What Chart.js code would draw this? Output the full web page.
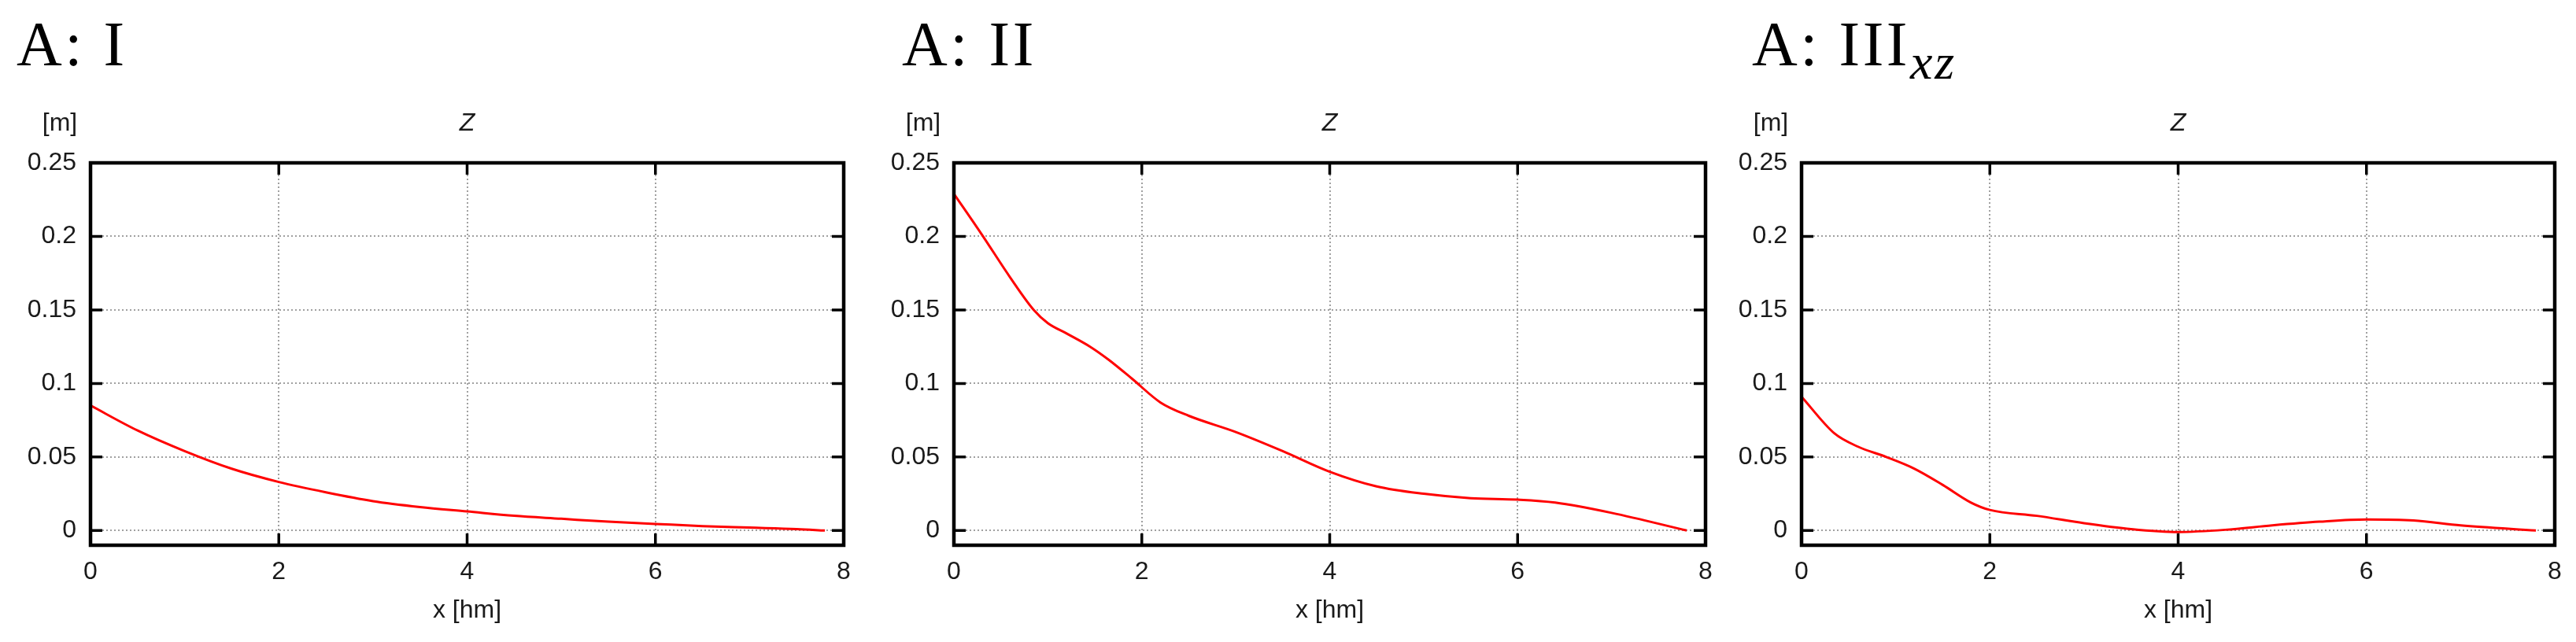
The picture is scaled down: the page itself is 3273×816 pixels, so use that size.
<!DOCTYPE html>
<html>
<head>
<meta charset="utf-8">
<script src="https://cdn.jsdelivr.net/npm/chart.js@4.4.0/dist/chart.umd.min.js"></script>
<style>
  body { margin: 0; width: 3273px; height: 816px; background: #fff; position: relative; overflow: hidden; }
  canvas { position: absolute; top: 0; }
  .ttl { position: absolute; top: 16px; font-family: "Liberation Serif", serif; font-size: 80px; line-height: 80px; letter-spacing: 3.5px; white-space: nowrap; color: #000; }
  .ttl .sub { font-style: italic; font-size: 64px; letter-spacing: 3px; line-height: 0; vertical-align: -17px; }
</style>
</head>
<body>
<div class="ttl" style="left:21px">A: I</div>
<div class="ttl" style="left:1146px">A: II</div>
<div class="ttl" style="left:2226px">A: III<span class="sub">xz</span></div>
<canvas id="c1" width="1099" height="816" style="left:0px"></canvas>
<canvas id="c2" width="1097" height="816" style="left:1097px"></canvas>
<canvas id="c3" width="1099" height="816" style="left:2174px"></canvas>
<script>
// ticks
const xTicks = [0, 2, 4, 6, 8];
const yTicks = [0, 0.05, 0.1, 0.15, 0.2, 0.25];
const yTickLabels = ['0', '0.05', '0.1', '0.15', '0.2', '0.25'];

// A: I
const xI = [0, 0.5, 1, 1.5, 2, 2.5, 3, 3.5, 4, 4.5, 5, 5.5, 6, 6.5, 7, 7.5, 7.8];
const zI = [0.085, 0.068, 0.054, 0.042, 0.033, 0.026, 0.020, 0.016, 0.013, 0.010, 0.008, 0.006, 0.0045, 0.003, 0.002, 0.001, 0];

// A: II
const xII = [0, 0.3, 0.6, 0.85, 1.0, 1.2, 1.45, 1.65, 1.9, 2.2, 2.5, 3.0, 3.5, 4.0, 4.5, 5.0, 5.5, 6.0, 6.4, 7.0, 7.8];
const zII = [0.229, 0.201, 0.172, 0.150, 0.141, 0.134, 0.125, 0.116, 0.103, 0.087, 0.078, 0.067, 0.054, 0.040, 0.030, 0.025, 0.022, 0.021, 0.019, 0.012, 0];

// A: III_xz
const xIII = [0, 0.35, 0.6, 0.9, 1.2, 1.5, 1.8, 2.0, 2.5, 3.0, 3.5, 4.0, 4.5, 5.0, 5.5, 6.0, 6.5, 7.0, 7.8];
const zIII = [0.091, 0.066, 0.057, 0.050, 0.042, 0.031, 0.019, 0.014, 0.010, 0.005, 0.001, -0.001, 0.0005, 0.0035, 0.006, 0.0075, 0.0068, 0.0035, 0];

const textFont = { family: 'Liberation Sans', size: 32 };
const textColor = '#1a1a1a';

// 框、内侧刻度和上方的文字
const framePlugin = {
  id: 'frame',
  afterDatasetsDraw(chart) {
    const { ctx, chartArea: a, scales } = chart;
    ctx.save();
    ctx.strokeStyle = '#000';
    ctx.lineWidth = 3.5;
    ctx.beginPath();
    yTicks.forEach(v => {
      const py = scales.y.getPixelForValue(v);
      ctx.moveTo(a.left, py); ctx.lineTo(a.left + 15, py);
      ctx.moveTo(a.right, py); ctx.lineTo(a.right - 15, py);
    });
    xTicks.forEach(v => {
      const px = scales.x.getPixelForValue(v);
      ctx.moveTo(px, a.top); ctx.lineTo(px, a.top + 15);
      ctx.moveTo(px, a.bottom); ctx.lineTo(px, a.bottom - 15);
    });
    ctx.stroke();
    ctx.lineWidth = 4.5;
    ctx.strokeRect(a.left, a.top, a.right - a.left, a.bottom - a.top);

    ctx.fillStyle = textColor;
    ctx.textBaseline = 'middle';
    ctx.textAlign = 'center';
    ctx.font = '32px "Liberation Sans"';
    ctx.fillText('[m]', a.left - 39, 157);
    ctx.font = 'italic 32px "Liberation Sans"';
    ctx.fillText('Z', (a.left + a.right) / 2, 157);
    ctx.restore();
  }
};

function makePanel(id, xs, zs) {
  new Chart(document.getElementById(id), {
    type: 'line',
    data: {
      datasets: [{
        data: xs.map((x, i) => ({ x: x, y: zs[i] })),
        borderColor: '#ff0000',
        borderWidth: 3,
        pointRadius: 0,
        fill: false,
        cubicInterpolationMode: 'monotone'
      }]
    },
    options: {
      responsive: false,
      animation: false,
      layout: { padding: { top: 207, right: 27, left: 0, bottom: 0 } },
      plugins: { legend: { display: false }, tooltip: { enabled: false } },
      scales: {
        x: {
          type: 'linear', min: 0, max: 8,
          afterBuildTicks: s => { s.ticks = xTicks.map(v => ({ value: v })); },
          afterFit: s => { s.height = 123; },
          grid: { color: '#a0a0a0', lineWidth: 2, drawTicks: false },
          border: { display: false, dash: [2, 3] },
          ticks: { padding: 15, font: textFont, color: textColor, maxRotation: 0, callback: v => String(v) },
          title: { display: true, text: 'x [hm]', font: textFont, color: textColor, padding: { top: 0, bottom: 21 } }
        },
        y: {
          min: -0.01, max: 0.25,
          afterBuildTicks: s => { s.ticks = yTicks.map(v => ({ value: v })); },
          afterFit: s => { s.width = 115; },
          grid: { color: '#a0a0a0', lineWidth: 2, drawTicks: false },
          border: { display: false, dash: [2, 3] },
          ticks: { padding: 18, font: textFont, color: textColor, callback: (v, i) => yTickLabels[i] }
        }
      }
    },
    plugins: [framePlugin]
  });
}

makePanel('c1', xI, zI);
makePanel('c2', xII, zII);
makePanel('c3', xIII, zIII);
</script>
</body>
</html>
